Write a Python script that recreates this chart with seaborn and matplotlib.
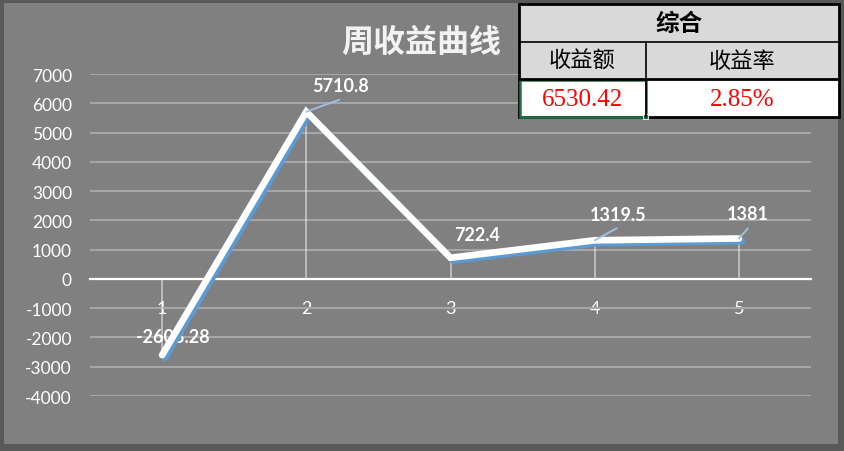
import matplotlib
matplotlib.use("Agg")
import matplotlib.pyplot as plt
import matplotlib.patheffects as pe
from matplotlib.patches import Rectangle
import seaborn as sns
import pandas as pd

# data
weeks = [1, 2, 3, 4, 5]
profit = [-2603.28, 5710.8, 722.4, 1319.5, 1381]
y_ticks = list(range(-4000, 7001, 1000))
title = "周收益曲线"
summary_head = "综合"
summary_cols = ["收益额", "收益率"]
summary_vals = ["6530.42", "2.85%"]

# label placement (pixels from the point) and leader line ends (None = no leader)
label_offsets = [(11, 19), (34, 26), (27, 23), (23, 26), (9, 25)]
leader_ends = [None, (33, 12), None, (22, 12), (9, 10)]

df = pd.DataFrame({"week": weeks, "profit": profit})

sns.set_style("white")
plt.rcParams["font.family"] = ["Lato", "Noto Sans CJK SC", "DejaVu Sans"]
plt.rcParams["axes.unicode_minus"] = False

W, H = 844, 452
fig = plt.figure(figsize=(W / 100, H / 100), dpi=100, facecolor="#595959")
fig.patches.append(Rectangle((4 / W, 7 / H), 834 / W, 441 / H, transform=fig.transFigure,
                             facecolor="#808080", edgecolor="none", zorder=-5))

ax = fig.add_axes([90 / W, 55 / H, 721 / W, 322 / H])
ax.set_facecolor("none")

ax.vlines(weeks, 0, profit, colors="white", alpha=0.55, lw=1.2, zorder=1)
sns.lineplot(data=df, x="week", y="profit", ax=ax, color="white", linewidth=4.8,
             solid_capstyle="round", solid_joinstyle="miter", zorder=3)
ax.lines[-1].set_path_effects([
    pe.SimpleLineShadow(offset=(2, -2), shadow_color="#5b9bd5", alpha=1.0),
    pe.Normal(),
])

ax.set_xlim(0.5, 5.5)
ax.set_ylim(-4000, 7000)
ax.set_xticks(weeks)
ax.set_yticks(y_ticks)
ax.grid(axis="y", color="#a6a6a6", lw=1.5, zorder=0)
ax.grid(axis="x", visible=False)
for s in ["top", "right", "left"]:
    ax.spines[s].set_visible(False)
ax.spines["bottom"].set_position(("data", 0))
ax.spines["bottom"].set_color("white")
ax.spines["bottom"].set_linewidth(1.6)
ax.spines["bottom"].set_zorder(2)
ax.tick_params(axis="both", length=0, colors="white", labelsize=12.5)
ax.tick_params(axis="x", pad=15, labelsize=13)
ax.tick_params(axis="y", pad=13)
ax.set_xlabel("")
ax.set_ylabel("")

for x, v, off, end in zip(weeks, profit, label_offsets, leader_ends):
    if end is not None:
        ax.annotate("", xy=(x, v), xytext=end, textcoords="offset pixels",
                    arrowprops=dict(arrowstyle="-", color="#9dc3e6", lw=1.3,
                                    shrinkA=0, shrinkB=0), zorder=4)
    ax.annotate(f"{v:g}", xy=(x, v), xytext=off, textcoords="offset pixels",
                ha="center", va="center", color="white", fontsize=13,
                fontweight="bold", zorder=2.5)

fig.text(421 / W, 1 - 43 / H, title, ha="center", va="center", fontsize=23,
         fontweight="bold", color="#f2f2f2", family=["Noto Sans CJK SC", "DejaVu Sans"])

# summary table in pixel coordinates
tb = fig.add_axes([0, 0, 1, 1], zorder=10)
tb.set_xlim(0, W)
tb.set_ylim(H, 0)
tb.axis("off")
x0, x1, xm = 519, 839, 646
y0, y1, y2, y3 = 5, 43, 80, 118
tb.add_patch(Rectangle((x0, y0), x1 - x0, y2 - y0, facecolor="#d9d9d9", edgecolor="none"))
tb.add_patch(Rectangle((x0, y2), x1 - x0, y3 - y2, facecolor="white", edgecolor="none"))
tb.add_patch(Rectangle((x0, y0), x1 - x0, y3 - y0, facecolor="none", edgecolor="black", lw=2))
tb.plot([x0, x1], [y1, y1], color="black", lw=1.2)
tb.plot([x0, x1], [y2, y2], color="black", lw=2)
tb.plot([xm, xm], [y1, y3], color="black", lw=1.2)
tb.add_patch(Rectangle((x0 + 1, y2 + 1), xm - x0 - 1, y3 - y2 - 1, facecolor="none",
                       edgecolor="#217346", lw=1.8))
tb.add_patch(Rectangle((xm - 3, y3 - 3), 5, 5, facecolor="#217346", edgecolor="white", lw=0.6))

cjk = ["Noto Sans CJK SC", "DejaVu Sans"]
tb.text((x0 + x1) / 2, (y0 + y1) / 2, summary_head, ha="center", va="center",
        fontsize=17, fontweight="bold", color="black", family=cjk)
for cx, name, val in zip([(x0 + xm) / 2, (xm + x1) / 2], summary_cols, summary_vals):
    tb.text(cx, (y1 + y2) / 2, name, ha="center", va="center", fontsize=16,
            color="black", family=cjk)
    tb.text(cx, (y2 + y3) / 2 + 1, val, ha="center", va="center", fontsize=18,
            color="#ff0000", family=["Liberation Serif", "DejaVu Serif"])

fig.savefig("out.png", dpi=100, facecolor=fig.get_facecolor())
